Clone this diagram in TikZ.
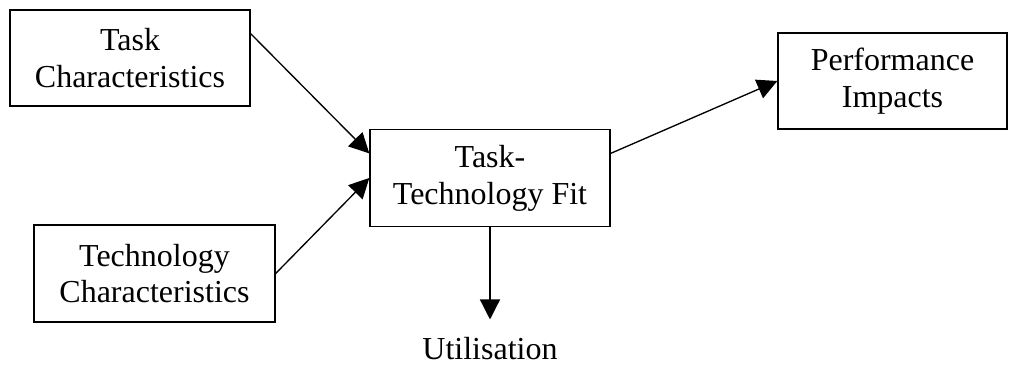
\documentclass[tikz,border=0pt]{standalone}
\usepackage{fontspec}
\setmainfont{Liberation Serif}
\usetikzlibrary{arrows.meta,calc}

\tikzset{
  factor/.style={draw,line width=1pt,align=center,
    font=\fontsize{24}{27.6}\selectfont,minimum width=180pt,minimum height=72pt},
  link/.style={line width=1pt,-{Triangle[length=15pt,width=15pt]}}
}

\begin{document}
\begin{tikzpicture}[x=0.75pt,y=-0.75pt]
        \useasboundingbox (0,0) rectangle (1009,367);

        \node[factor] (task) at (130,58) {Task\\Characteristics};
        \node[factor,minimum width=180.75pt,minimum height=72.75pt] (tech) at (154.5,273.5) {Technology\\Characteristics};
        \node[factor,minimum height=72.75pt] (ttf) at (490,178) {Task-\\Technology Fit};
        \node[factor,minimum width=171.75pt] (perf) at (892.5,81) {Performance\\Impacts};
        \node[font=\fontsize{24}{27.6}\selectfont,inner ysep=13.5pt] (util) at (490,349) {Utilisation};

        \draw[link] ($(task.east)!0.5!(task.north east)$) -- ($(ttf.west)!0.5!(ttf.north west)$);
        \draw[link] (tech.east) -- (ttf.west);
        \draw[link] ($(ttf.east)!0.5!(ttf.north east)$) -- (perf.west);
        \draw[link] (ttf.south) -- (util.north);
      \end{tikzpicture}
\end{document}
